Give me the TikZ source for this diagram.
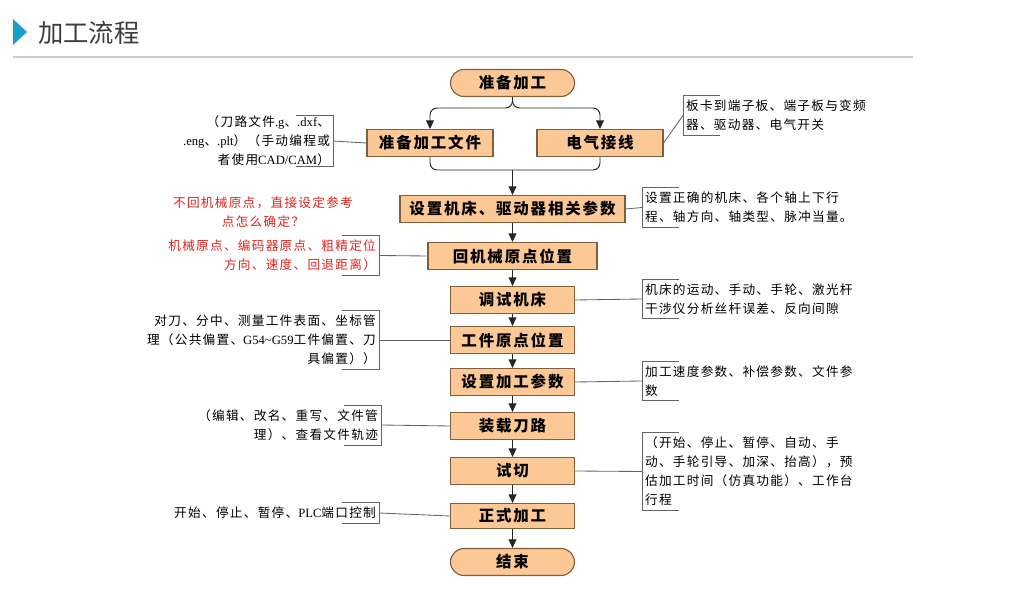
\documentclass[tikz,border=0pt]{standalone}
\usepackage{fontspec}
\setmainfont{Noto Sans CJK SC}
\newfontfamily\boxfont[LetterSpace=12]{Noto Sans CJK SC}
\newfontfamily\notefont[LetterSpace=10]{Noto Sans CJK SC}
\newfontfamily\latinfont{Liberation Serif}
\newcommand{\lat}[1]{{\latinfont #1}}
\usetikzlibrary{positioning,arrows.meta,shapes.misc}
\usepackage{xcolor}

\definecolor{boxfill}{RGB}{251,200,150}
\definecolor{boxline}{RGB}{130,95,60}
\definecolor{notered}{RGB}{225,35,30}
\definecolor{accent}{RGB}{25,160,200}
\definecolor{titlegray}{RGB}{60,60,60}
\definecolor{rulegray}{RGB}{205,205,205}
\definecolor{wire}{RGB}{100,100,100}

\begin{document}
\begin{tikzpicture}[
  x=0.025cm,
  y=-0.025cm,
  >={Triangle[length=6pt,width=5.5pt]},
  stepbox/.style={
    rectangle,
    draw=boxline,
    fill=boxfill,
    line width=0.8pt,
    minimum width=3.1cm,
    minimum height=0.675cm,
    inner sep=0pt,
    font=\boxfont\bfseries\fontsize{11}{13}\selectfont
  },
  endbox/.style={
    stepbox,
    rounded rectangle
  },
  note/.style={
    inner xsep=2pt,
    inner ysep=3pt,
    font=\notefont\fontsize{9}{13.5}\selectfont
  },
  notel/.style={note, anchor=east, align=right},
  noter/.style={note, anchor=west, align=left},
  flow/.style={->, draw=black!85, line width=0.7pt},
  link/.style={draw=wire, line width=0.6pt},
  brk/.style={draw=wire, line width=0.6pt}
]
\useasboundingbox (0,0) rectangle (1028,603);

% heading
\fill[accent] (13,19) -- (27,32) -- (13,45) -- cycle;
\node[anchor=west, text=titlegray, inner sep=0pt, font=\fontsize{18}{20}\selectfont] (title) at (38,33) {加工流程};
\draw[rulegray, line width=0.8pt] (13,57) -- (913,57);

% main flow
\node[endbox] (start) at (512.5,83) {准备加工};
\node[stepbox, minimum width=3.15cm] (prepfile) at (430,143) {准备加工文件};
\node[stepbox, minimum width=3.15cm] (wiring) at (600,143) {电气接线};
\node[stepbox, minimum width=5.625cm] (setup) at (512.5,209) {设置机床、驱动器相关参数};
\node[stepbox, minimum width=4.225cm] (home) at (512.5,256) {回机械原点位置};
\node[stepbox] (debug) at (512.5,300) {调试机床};
\node[stepbox] (zero) at (512.5,340) {工件原点位置};
\node[stepbox] (param) at (512.5,382) {设置加工参数};
\node[stepbox] (load) at (512.5,426) {装载刀路};
\node[stepbox] (trial) at (512.5,471) {试切};
\node[stepbox, minimum height=0.625cm] (run) at (512.5,516) {正式加工};
\node[endbox] (finish) at (512.5,562) {结束};

\coordinate (split) at (512.5,108);
\coordinate (merge) at (512.5,170);

\draw[flow, rounded corners=5pt] (start.south) -- (split) -| (prepfile.north);
\draw[flow, rounded corners=5pt] (start.south) -- (split) -| (wiring.north);
\draw[draw=black!85, line width=0.7pt, rounded corners=5pt] (prepfile.south) |- (merge) -| (wiring.south);
\draw[flow] (merge) -- (setup.north);

\foreach \a/\b in {setup/home, home/debug, debug/zero, zero/param, param/load, load/trial, trial/run, run/finish}
  \draw[flow] (\a.south) -- (\b.north);

% notes
\node[notel, inner ysep=0pt] (noteFile) at (333,141) {（刀路文件\lat{.g}、\lat{.dxf}、\\\lat{.eng}、\lat{.plt}）（手动编程或\\者使用\lat{CAD/CAM}）};
\node[noter] (noteWire) at (683,115.5) {板卡到端子板、端子板与变频\\器、驱动器、电气开关};
\node[noter] (noteSetup) at (642,207.5) {设置正确的机床、各个轴上下行\\程、轴方向、轴类型、脉冲当量。};
\node[note, text=notered, align=center] (noteAsk) at (263,212) {不回机械原点，直接设定参考\\点怎么确定？};
\node[notel, text=notered] (noteHome) at (379,255.5) {机械原点、编码器原点、粗精定位\\方向、速度、回退距离）};
\node[noter] (noteDebug) at (642,299) {机床的运动、手动、手轮、激光杆\\干涉仪分析丝杆误差、反向间隙};
\node[notel] (noteZero) at (379,340) {对刀、分中、测量工件表面、坐标管\\理（公共偏置、\lat{G54\textasciitilde G59}工件偏置、刀\\具偏置））};
\node[noter] (noteParam) at (642,381) {加工速度参数、补偿参数、文件参\\数};
\node[notel] (noteLoad) at (381,425) {（编辑、改名、重写、文件管\\理）、查看文件轨迹};
\node[noter] (noteTrial) at (642,471.5) {（开始、停止、暂停、自动、手\\动、手轮引导、加深、抬高），预\\估加工时间（仿真功能）、工作台\\行程};
\node[notel] (noteRun) at (379,513) {开始、停止、暂停、\lat{PLC}端口控制};

% brackets
\foreach \n in {noteFile, noteHome, noteZero, noteLoad, noteRun}
  \draw[brk] (\n.north east) ++(-37,0) -- (\n.north east) -- (\n.south east) -- ++(-37,0);
\foreach \n in {noteWire, noteSetup, noteDebug, noteParam, noteTrial}
  \draw[brk] (\n.north west) ++(37,0) -- (\n.north west) -- (\n.south west) -- ++(37,0);

% links to notes
\foreach \a/\b in {prepfile/noteFile, home/noteHome, zero/noteZero, load/noteLoad, run/noteRun}
  \draw[link] (\a.west) -- (\b.east);
\foreach \a/\b in {wiring/noteWire, setup/noteSetup, debug/noteDebug, param/noteParam, trial/noteTrial}
  \draw[link] (\a.east) -- (\b.west);

\end{tikzpicture}
\end{document}
